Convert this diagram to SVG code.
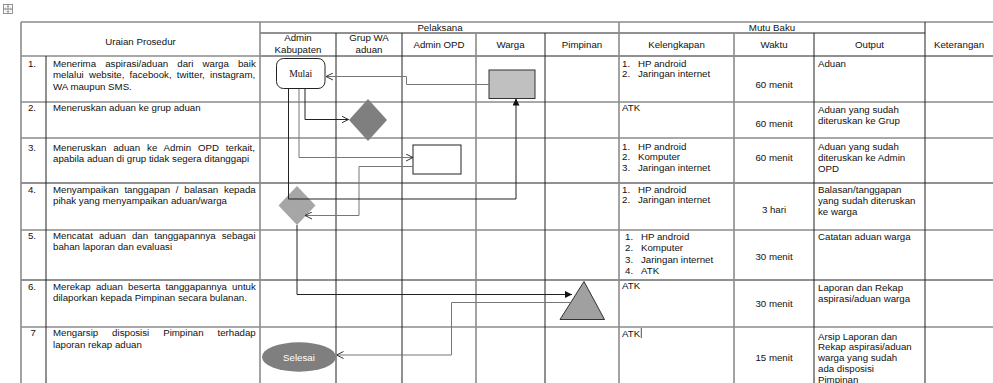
<svg xmlns="http://www.w3.org/2000/svg" width="993" height="383" viewBox="0 0 993 383">
<style>
.t{font-family:"Liberation Sans",Arial,sans-serif;font-size:9.7px;fill:#111}
.c{text-anchor:middle}
.e{text-anchor:end}
.g{stroke:#8c8c8c;stroke-width:1.6;fill:none}
.k{stroke:#222;stroke-width:1;fill:none}
.cn{fill:none;stroke-width:1}
.dk{stroke:#222}
.gr{stroke:#777}
</style>
<defs>
<marker id="open" viewBox="0 0 10 10" markerUnits="userSpaceOnUse" markerWidth="7" markerHeight="8" refX="10" refY="5" orient="auto">
<path d="M0,0 L10,5 L0,10" fill="none" stroke="#222" stroke-width="1.3"/>
</marker>
<marker id="filled" viewBox="0 0 10 10" markerUnits="userSpaceOnUse" markerWidth="7" markerHeight="7" refX="10" refY="5" orient="auto">
<path d="M0,0 L10,5 L0,10 Z" fill="#111"/>
</marker>
</defs>
<rect width="993" height="383" fill="#fff"/>
<g id="move-handle" stroke="#777" fill="none" stroke-width="0.8">
<rect x="3.5" y="4.5" width="9" height="9"/>
<path d="M8,5.5 V12.5 M4.5,9 H11.5 M6.8,6.8 L8,5.5 L9.2,6.8 M6.8,11.2 L8,12.5 L9.2,11.2 M5.8,7.8 L4.5,9 L5.8,10.2 M10.2,7.8 L11.5,9 L10.2,10.2"/>
</g>
<g id="table">
<path class="g" d="M21,22 H993 M21,56 H260 M21,102 H993 M21,138 H993 M21,230 H993 M21,327 H993"/>
<path class="k" d="M260,33 H925 M260,56 H993 M21,183 H993 M21,280 H993"/>
<path class="g" d="M21,22 V383 M260,22 V383 M476,33 V383 M619,22 V383 M734,33 V383"/>
<path class="k" d="M46,56 V383 M336,33 V383 M402,33 V383 M545,33 V383 M814,33 V383 M925,22 V383"/>
</g>
<g id="headers">
<text class="t c" x="140.5" y="44.5">Uraian Prosedur</text>
<text class="t c" x="440" y="30.5">Pelaksana</text>
<text class="t c" x="772" y="30.5">Mutu Baku</text>
<text class="t c" x="959" y="48">Keterangan</text>
<text class="t c" x="298" y="41">Admin</text>
<text class="t c" x="298" y="52.5">Kabupaten</text>
<text class="t c" x="369" y="41">Grup WA</text>
<text class="t c" x="369" y="52.5">aduan</text>
<text class="t c" x="439" y="48">Admin OPD</text>
<text class="t c" x="510.5" y="48">Warga</text>
<text class="t c" x="582" y="48">Pimpinan</text>
<text class="t c" x="676.5" y="48">Kelengkapan</text>
<text class="t c" x="774" y="48">Waktu</text>
<text class="t c" x="869.5" y="48">Output</text>
</g>
<g id="uraian">
<text class="t e" x="36" y="66.5">1.</text>
<text class="t" x="53" y="66.5" style="word-spacing:6.4px">Menerima aspirasi/aduan dari warga baik</text>
<text class="t" x="53" y="77.5" style="word-spacing:2.5px">melalui website, facebook, twitter, instagram,</text>
<text class="t" x="53" y="89.5">WA maupun SMS.</text>
<text class="t e" x="36" y="110.5">2.</text>
<text class="t" x="53" y="110.5">Meneruskan aduan ke grup aduan</text>
<text class="t e" x="36" y="150.5">3.</text>
<text class="t" x="53" y="150.5" style="word-spacing:4.2px">Meneruskan aduan ke Admin OPD terkait,</text>
<text class="t" x="53" y="161.5">apabila aduan di grup tidak segera ditanggapi</text>
<text class="t e" x="36" y="192.5">4.</text>
<text class="t" x="53" y="192.5" style="word-spacing:3px">Menyampaikan tanggapan / balasan kepada</text>
<text class="t" x="53" y="203.5">pihak yang menyampaikan aduan/warga</text>
<text class="t e" x="36" y="238.5">5.</text>
<text class="t" x="53" y="238.5" style="word-spacing:3.4px">Mencatat aduan dan tanggapannya sebagai</text>
<text class="t" x="53" y="249.5">bahan laporan dan evaluasi</text>
<text class="t e" x="36" y="289.5">6.</text>
<text class="t" x="53" y="289.5" style="word-spacing:2.5px">Merekap aduan beserta tanggapannya untuk</text>
<text class="t" x="53" y="300.5">dilaporkan kepada Pimpinan secara bulanan.</text>
<text class="t e" x="36" y="335.5">7</text>
<text class="t" x="53" y="335.5" style="word-spacing:11.2px">Mengarsip disposisi Pimpinan terhadap</text>
<text class="t" x="53" y="347.5">laporan rekap aduan</text>
</g>
<g id="kelengkapan">
<text class="t" x="622" y="66.5">1.</text><text class="t" x="638" y="66.5">HP android</text>
<text class="t" x="622" y="76.5">2.</text><text class="t" x="638" y="76.5">Jaringan internet</text>
<text class="t" x="622" y="110.5">ATK</text>
<text class="t" x="622" y="149.5">1.</text><text class="t" x="638" y="149.5">HP android</text>
<text class="t" x="622" y="160">2.</text><text class="t" x="638" y="160">Komputer</text>
<text class="t" x="622" y="170.5">3.</text><text class="t" x="638" y="170.5">Jaringan internet</text>
<text class="t" x="622" y="192.5">1.</text><text class="t" x="638" y="192.5">HP android</text>
<text class="t" x="622" y="202.5">2.</text><text class="t" x="638" y="202.5">Jaringan internet</text>
<text class="t" x="625" y="239.5">1.</text><text class="t" x="641" y="239.5">HP android</text>
<text class="t" x="625" y="251">2.</text><text class="t" x="641" y="251">Komputer</text>
<text class="t" x="625" y="262.5">3.</text><text class="t" x="641" y="262.5">Jaringan internet</text>
<text class="t" x="625" y="274">4.</text><text class="t" x="641" y="274">ATK</text>
<text class="t" x="622" y="288.5">ATK</text>
<text class="t" x="622" y="336.5">ATK</text>
<path d="M641.3,328 V338" stroke="#222" stroke-width="0.8"/>
</g>
<g id="waktu">
<text class="t c" x="774" y="87.5">60 menit</text>
<text class="t c" x="774" y="126.5">60 menit</text>
<text class="t c" x="774" y="160.5">60 menit</text>
<text class="t c" x="774" y="212.5">3 hari</text>
<text class="t c" x="774" y="259.5">30 menit</text>
<text class="t c" x="774" y="306.5">30 menit</text>
<text class="t c" x="774" y="360.5">15 menit</text>
</g>
<g id="output">
<text class="t" x="818" y="67">Aduan</text>
<text class="t" x="818" y="112.5">Aduan yang sudah</text>
<text class="t" x="818" y="124">diteruskan ke Grup</text>
<text class="t" x="818" y="149.5">Aduan yang sudah</text>
<text class="t" x="818" y="160.5">diteruskan ke Admin</text>
<text class="t" x="818" y="171.5">OPD</text>
<text class="t" x="818" y="192.5">Balasan/tanggapan</text>
<text class="t" x="818" y="203.5">yang sudah diteruskan</text>
<text class="t" x="818" y="214.5">ke warga</text>
<text class="t" x="818" y="239.5">Catatan aduan warga</text>
<text class="t" x="818" y="290.5">Laporan dan Rekap</text>
<text class="t" x="818" y="301.5">aspirasi/aduan warga</text>
<text class="t" x="818" y="339.5">Arsip Laporan dan</text>
<text class="t" x="818" y="350.3">Rekap aspirasi/aduan</text>
<text class="t" x="818" y="361">warga yang sudah</text>
<text class="t" x="818" y="371.8">ada disposisi</text>
<text class="t" x="818" y="382.5">Pimpinan</text>
</g>
<g id="node-warga"><rect x="489" y="70" width="46" height="28.5" fill="#c0c0c0" stroke="#333" stroke-width="1"/></g>
<g id="node-grup-wa"><polygon points="368,99 387,120 368,141 349,120" fill="#7f7f7f"/></g>
<g id="node-admin-opd"><rect x="413" y="145" width="48" height="29" fill="#fff" stroke="#222" stroke-width="1"/></g>
<g id="node-admin-decision"><polygon points="297,186 315.5,205.5 297,225 278.5,205.5" fill="#a6a6a6"/></g>
<g id="node-pimpinan"><polygon points="584,281.5 604.5,319.5 560,319.5" fill="#a0a0a0" stroke="#333" stroke-width="1"/></g>
<g id="connectors">
<path class="cn gr" d="M489,84.5 H406.5 V76.5 H326" marker-end="url(#open)"/>
<path class="cn dk" d="M305,88.5 V119.5 H348.5" marker-end="url(#open)"/>
<path class="cn gr" d="M299,88.5 V157.5 H413" marker-end="url(#open)"/>
<path class="cn gr" d="M413,166.5 H359 V215.5 H305" marker-end="url(#open)"/>
<path class="cn dk" d="M288.5,88.5 V199 H516 V98.5" marker-end="url(#filled)"/>
<path class="cn dk" d="M297,225 V294.5 H572" marker-end="url(#filled)"/>
<path class="cn gr" d="M570,302.5 H451.5 V355 H336.5" marker-end="url(#open)"/>
</g>
<g id="node-mulai">
<rect x="276.5" y="58.5" width="48.5" height="30" rx="7" fill="#fff" stroke="#222" stroke-width="1"/>
<text x="300.7" y="77" text-anchor="middle" style="font-family:'Liberation Serif','Times New Roman',serif;font-size:9.7px;fill:#111">Mulai</text>
</g>
<g id="node-selesai">
<ellipse cx="299" cy="357" rx="37" ry="14.7" fill="#7f7f7f"/>
<text class="t c" x="299" y="360.5" style="fill:#fff">Selesai</text>
</g>
</svg>
